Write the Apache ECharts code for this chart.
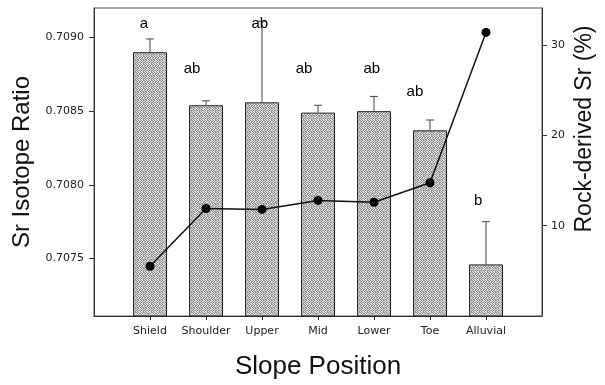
<!DOCTYPE html>
<html lang="en">
<head>
    <meta charset="UTF-8">
    <title>Sr isotope ratio by slope position</title>
    <script src="https://cdn.jsdelivr.net/npm/echarts@6/dist/echarts.min.js"></script>
    <style>
        html, body { margin: 0; padding: 0; background: #fff; }
        #chart { width: 605px; height: 385px; }
    </style>
</head>
<body>
<div id="chart"></div>
<script>
    // data
    var categories = ['Shield', 'Shoulder', 'Upper', 'Mid', 'Lower', 'Toe', 'Alluvial'];
    var catPos = [1, 2, 3, 4, 5, 6, 7];
    var srRatio = [0.70890, 0.70854, 0.70856, 0.70849, 0.70850, 0.70837, 0.70746];
    var srErrTop = [0.70899, 0.70857, 0.70911, 0.70854, 0.70860, 0.70844, 0.70775];
    var rockSr = [5.5, 11.9, 11.8, 12.8, 12.6, 14.75, 31.4];
    var letterText = ['a', 'ab', 'ab', 'ab', 'ab', 'ab', 'b'];
    var letterX = [0.89, 1.75, 2.96, 3.75, 4.96, 5.73, 6.86];
    var letterY = [0.70909, 0.70879, 0.70909, 0.70879, 0.70879, 0.70863, 0.70789];
    var leftTicks = [0.7075, 0.7080, 0.7085, 0.7090];
    var rightTicks = [10, 20, 30];

    // stippled grey fill like the scanned figure (8x8 tile, 0 = dark dot, 1 = light)
    var dots = [
        '01011010',
        '10100101',
        '01101011',
        '10010100',
        '01011010',
        '10110101',
        '01001010',
        '10110110'
    ];
    var pat = document.createElement('canvas');
    pat.width = 8; pat.height = 8;
    var pc = pat.getContext('2d');
    for (var r = 0; r < 8; r++) {
        for (var c = 0; c < 8; c++) {
            pc.fillStyle = dots[r][c] === '0' ? '#8e8e8e' : '#dedede';
            pc.fillRect(c, r, 1, 1);
        }
    }

    var barData = [], errData = [], lineData = [], letterData = [];
    for (var i = 0; i < categories.length; i++) {
        barData.push([catPos[i], srRatio[i]]);
        errData.push([catPos[i], srRatio[i], srErrTop[i]]);
        lineData.push([catPos[i], rockSr[i]]);
        letterData.push({value: [letterX[i], letterY[i]], name: letterText[i]});
    }

    var font = 'Liberation Sans, Arial, sans-serif';
    var chart = echarts.init(document.getElementById('chart'));
    chart.setOption({
        animation: false,
        grid: {left: 94, right: 63, top: 8, bottom: 65, show: true,
               borderColor: '#555', borderWidth: 1, backgroundColor: 'transparent'},
        xAxis: {
            type: 'value', min: 0, max: 8,
            name: 'Slope Position', nameLocation: 'middle', nameGap: 38,
            nameTextStyle: {fontFamily: font, fontSize: 26, color: '#111'},
            axisLine: {onZero: false, lineStyle: {color: '#333', width: 1}},
            axisTick: {customValues: catPos, length: 4, lineStyle: {color: '#333'}},
            axisLabel: {customValues: catPos, margin: 10,
                        fontFamily: 'DejaVu Sans', fontSize: 11, color: '#222',
                        formatter: function (v) { return categories[Math.round(v) - 1] || ''; }},
            splitLine: {show: false}
        },
        yAxis: [{
            type: 'value', min: 0.70711, max: 0.70920, position: 'left',
            name: 'Sr Isotope Ratio', nameLocation: 'middle', nameGap: 60,
            nameTextStyle: {fontFamily: font, fontSize: 24, color: '#111'},
            axisLine: {show: true, onZero: false, lineStyle: {color: '#333'}},
            axisTick: {show: true, customValues: leftTicks, length: 5, lineStyle: {color: '#333'}},
            axisLabel: {customValues: leftTicks, margin: 10,
                        fontFamily: 'DejaVu Sans', fontSize: 11, color: '#222',
                        formatter: function (v) { return v.toFixed(4); }},
            splitLine: {show: false}
        }, {
            type: 'value', min: 0, max: 34.1, position: 'right',
            axisLine: {show: true, onZero: false, lineStyle: {color: '#333'}},
            axisTick: {show: true, customValues: rightTicks, length: 5, lineStyle: {color: '#333'}},
            axisLabel: {customValues: rightTicks, margin: 9,
                        fontFamily: 'DejaVu Sans', fontSize: 11, color: '#222'},
            splitLine: {show: false}
        }],
        graphic: [{
            type: 'text', x: 585, y: 129, rotation: Math.PI / 2,
            style: {text: 'Rock-derived Sr (%)', fontFamily: font, fontSize: 23,
                    fill: '#111', align: 'center', verticalAlign: 'middle'}
        }],
        series: [{
            type: 'bar', data: barData, barWidth: 34,
            itemStyle: {color: {image: pat, repeat: 'repeat'}, borderColor: '#222', borderWidth: 1}
        }, {
            type: 'custom', data: errData, z: 3,
            renderItem: function (params, api) {
                var base = api.coord([api.value(0), api.value(1)]);
                var top = api.coord([api.value(0), api.value(2)]);
                var st = {stroke: '#444', lineWidth: 1};
                return {type: 'group', children: [
                    {type: 'line', shape: {x1: base[0], y1: base[1], x2: top[0], y2: top[1]}, style: st},
                    {type: 'line', shape: {x1: top[0] - 4, y1: top[1], x2: top[0] + 4, y2: top[1]}, style: st}
                ]};
            }
        }, {
            type: 'line', yAxisIndex: 1, data: lineData, z: 4,
            symbol: 'circle', symbolSize: 9,
            lineStyle: {color: '#111', width: 1.5},
            itemStyle: {color: '#000'}
        }, {
            type: 'scatter', data: letterData, symbolSize: 1, z: 5,
            itemStyle: {color: 'transparent', opacity: 1},
            label: {show: true, position: 'inside', formatter: '{b}',
                    fontFamily: font, fontSize: 15, color: '#000', opacity: 1,
                    textBorderWidth: 0}
        }]
    });
</script>
</body>
</html>
